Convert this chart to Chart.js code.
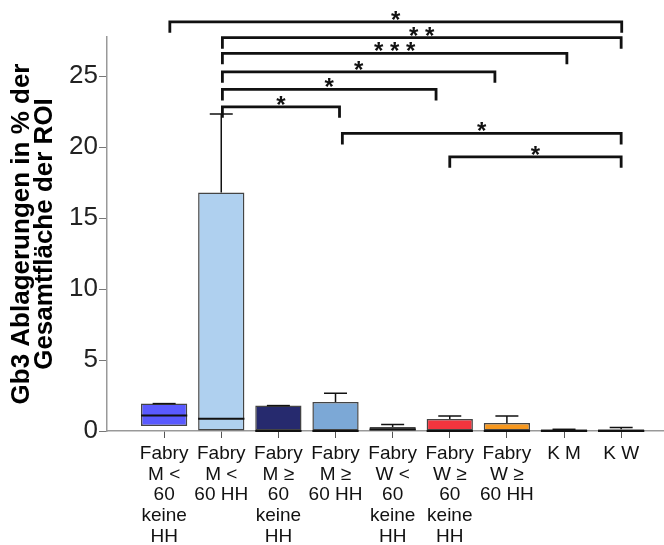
<!DOCTYPE html>
<html>
<head>
<meta charset="utf-8">
<script src="https://cdn.jsdelivr.net/npm/chart.js@4.4.1/dist/chart.umd.min.js"></script>
<style>
    html, body { margin: 0; padding: 0; background: #fff; }
    #wrap { width: 664px; height: 545px; }
</style>
</head>
<body>
<div id="wrap"><canvas id="chart" width="664" height="545"></canvas></div>
<script>
    // Groups (x positions 1..9)
    const groupLabels = [
        ['Fabry', 'M <', '60', 'keine', 'HH'],
        ['Fabry', 'M <', '60 HH'],
        ['Fabry', 'M ≥', '60', 'keine', 'HH'],
        ['Fabry', 'M ≥', '60 HH'],
        ['Fabry', 'W <', '60', 'keine', 'HH'],
        ['Fabry', 'W ≥', '60', 'keine', 'HH'],
        ['Fabry', 'W ≥', '60 HH'],
        ['K M'],
        ['K W']
    ];
    const groupPositions = [1, 2, 3, 4, 5, 6, 7, 8, 9];

    // Box plot values (% of ROI)
    const minValues    = [0.35, 0, 0, 0, 0.05, 0, 0, 0, 0];
    const q1Values     = [0.35, 0, 0, 0, 0.05, 0, 0, 0, 0];
    const medianValues = [1.1, 0.87, 0, 0, 0.1, 0, 0, 0, 0];
    const q3Values     = [1.93, 16.8, 1.79, 2.04, 0.28, 0.85, 0.56, 0.12, 0.12];
    const maxValues    = [1.93, 22.32, 1.79, 2.66, 0.45, 1.06, 1.06, 0.12, 0.25];

    const boxColors = ['#5a5aff', '#afd0ef', '#262a6e', '#7ca8d6', '#2e2e2e', '#f2353e', '#f7981f', '#111111', '#111111'];

    const yTicks = [0, 5, 10, 15, 20, 25];

    // Significance brackets
    const bracketFrom  = [1.1, 2.02, 2.02, 2.02, 2.02, 2.02, 4.12, 6.0];
    const bracketTo    = [9.01, 9.0, 8.05, 6.79, 5.76, 4.07, 9.0, 9.0];
    const bracketLevel = [28.82, 27.7, 26.6, 25.3, 24.06, 22.83, 20.96, 19.31];
    const bracketStars = ['*', '* *', '* * *', '*', '*', '*', '*', '*'];

    const boxExtras = {
        id: 'boxExtras',
        afterDatasetsDraw(chart) {
            const { ctx, scales: { x, y } } = chart;
            const meta = chart.getDatasetMeta(0);
            ctx.save();

            // whiskers and medians
            meta.data.forEach((bar, i) => {
                const cx = bar.x;
                const half = bar.width / 2;
                const cap = 11.5;
                ctx.strokeStyle = '#111';
                ctx.lineWidth = 1.5;
                ctx.beginPath();
                ctx.moveTo(cx, y.getPixelForValue(q3Values[i]));
                ctx.lineTo(cx, y.getPixelForValue(maxValues[i]));
                ctx.moveTo(cx - cap, y.getPixelForValue(maxValues[i]));
                ctx.lineTo(cx + cap, y.getPixelForValue(maxValues[i]));
                ctx.moveTo(cx, y.getPixelForValue(q1Values[i]));
                ctx.lineTo(cx, y.getPixelForValue(minValues[i]));
                ctx.stroke();

                ctx.lineWidth = 2;
                ctx.beginPath();
                const my = y.getPixelForValue(medianValues[i]);
                ctx.moveTo(cx - half, my);
                ctx.lineTo(cx + half, my);
                ctx.stroke();
            });

            // brackets
            ctx.strokeStyle = '#111';
            ctx.fillStyle = '#111';
            ctx.lineWidth = 2.8;
            ctx.font = 'bold 24px "Liberation Sans", Arial, sans-serif';
            ctx.textAlign = 'center';
            ctx.textBaseline = 'alphabetic';
            bracketLevel.forEach((lvl, i) => {
                const x1 = x.getPixelForValue(bracketFrom[i]);
                const x2 = x.getPixelForValue(bracketTo[i]);
                const by = y.getPixelForValue(lvl);
                ctx.beginPath();
                ctx.moveTo(x1, by + 11);
                ctx.lineTo(x1, by);
                ctx.lineTo(x2, by);
                ctx.lineTo(x2, by + 11);
                ctx.stroke();
                ctx.fillText(bracketStars[i], (x1 + x2) / 2, by + 6);
            });
            ctx.restore();
        }
    };

    function init() {
        const ctx = document.getElementById('chart').getContext('2d');
        new Chart(ctx, {
            type: 'bar',
            data: {
                datasets: [{
                    data: groupPositions.map((p, i) => ({ x: p, y: [q1Values[i], q3Values[i]] })),
                    backgroundColor: boxColors,
                    borderColor: '#444',
                    borderWidth: 1.5,
                    borderSkipped: false,
                    barPercentage: 0.81,
                    categoryPercentage: 1
                }]
            },
            options: {
                responsive: false,
                animation: false,
                devicePixelRatio: 1,
                layout: { padding: { top: 37, left: 0, right: 0, bottom: 0 } },
                plugins: {
                    legend: { display: false },
                    tooltip: { enabled: false }
                },
                scales: {
                    x: {
                        type: 'linear',
                        min: 0,
                        max: 9.75,
                        offset: false,
                        afterBuildTicks: scale => {
                            scale.ticks = groupPositions.map(v => ({ value: v }));
                        },
                        afterFit: scale => { scale.height = 114; },
                        ticks: {
                            autoSkip: false,
                            maxRotation: 0,
                            minRotation: 0,
                            padding: 5,
                            color: '#111',
                            font: { family: '"Liberation Sans", Arial, sans-serif', size: 19, lineHeight: 1.1 },
                            callback: v => groupLabels[v - 1] || ''
                        },
                        grid: { drawOnChartArea: false, offset: false, tickLength: 7, color: '#555' },
                        border: { color: '#999', width: 1.5 }
                    },
                    y: {
                        min: 0,
                        max: 27.75,
                        afterBuildTicks: scale => {
                            scale.ticks = yTicks.map(v => ({ value: v }));
                        },
                        afterFit: scale => { scale.width = 107; },
                        ticks: {
                            padding: 1,
                            color: '#222',
                            font: { family: '"Liberation Sans", Arial, sans-serif', size: 26 }
                        },
                        grid: { drawOnChartArea: false, tickLength: 8, color: '#777' },
                        border: { color: '#999', width: 1.5 },
                        title: {
                            display: true,
                            text: ['Gb3 Ablagerungen in % der', 'Gesamtfläche der ROI'],
                            color: '#000',
                            padding: { top: 10, bottom: 0 },
                            font: { family: '"Liberation Sans", Arial, sans-serif', size: 26, weight: 'bold', lineHeight: 0.9 }
                        }
                    }
                }
            },
            plugins: [boxExtras]
        });
    }

    document.addEventListener('DOMContentLoaded', init);
</script>
</body>
</html>
